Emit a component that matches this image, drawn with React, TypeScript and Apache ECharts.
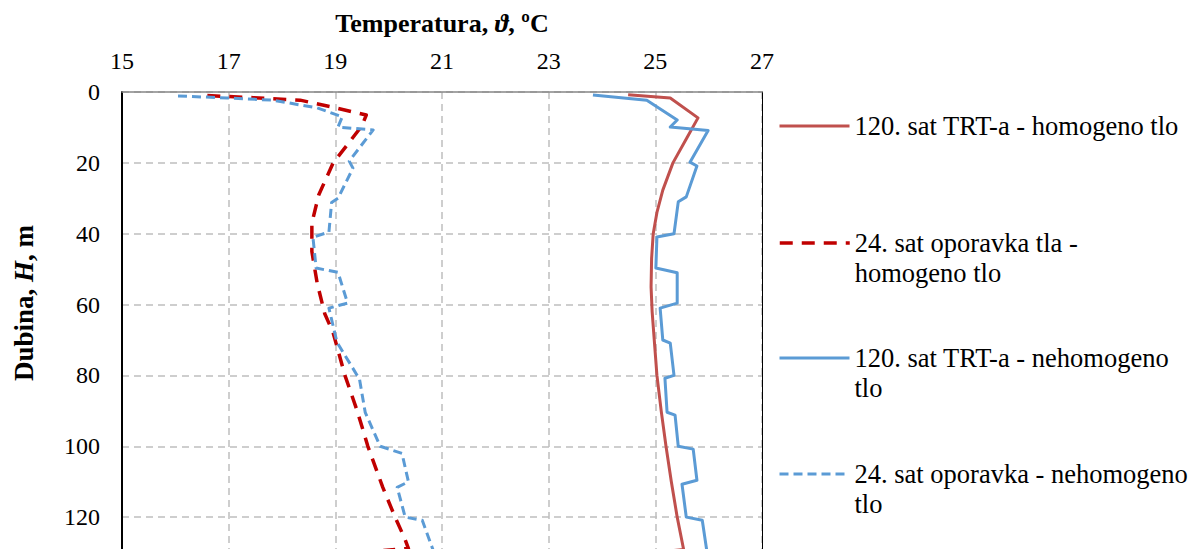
import React, { useEffect, useRef } from 'react';
import * as echarts from 'echarts';

const seriesNames = [
  '120. sat TRT-a - homogeno tlo',
  '24. sat oporavka tla -\nhomogeno tlo',
  '120. sat TRT-a - nehomogeno\ntlo',
  '24. sat oporavka - nehomogeno\ntlo',
];

const seriesColors = ['#C0504D', '#C00000', '#5B9BD5', '#5B9BD5'];

// [temperature °C, depth m]
const trtHomogeneous: [number, number][] = [
  [24.49, 0.8], [25.28, 1.7], [25.8, 7.3], [25.59, 13], [25.33, 20], [25.14, 27.7],
  [25.03, 34], [24.96, 40], [24.93, 47], [24.92, 55], [24.94, 62], [24.99, 72],
  [25.03, 80], [25.11, 90], [25.2, 100], [25.3, 110], [25.41, 120], [25.53, 129.1],
  [25.3, 129.5],
];

const recoveryHomogeneous: [number, number][] = [
  [16.6, 1.0], [17.46, 1.6], [18.34, 2.3], [18.96, 4.3], [19.58, 6.5], [19.5, 9.5],
  [19.22, 15], [18.96, 20], [18.69, 29], [18.56, 37], [18.56, 45], [18.66, 54],
  [18.8, 62.5], [18.96, 68], [19.18, 80], [19.41, 90], [19.61, 100], [19.89, 111.6],
  [20.12, 120], [20.3, 126], [20.37, 128.8], [19.9, 129.4],
];

const trtHeterogeneous: [number, number][] = [
  [23.83, 0.85], [24.84, 2.3], [25.41, 7.9], [25.28, 9.9], [25.99, 10.9], [25.65, 19.8],
  [25.78, 20.9], [25.58, 29.6], [25.43, 31], [25.35, 40], [25.03, 40.9], [25.01, 49.7],
  [25.41, 51], [25.41, 59.6], [25.09, 61], [25.14, 70], [25.28, 70.9], [25.35, 80],
  [25.18, 80.8], [25.22, 90.4], [25.37, 91.2], [25.43, 100], [25.71, 100.8], [25.78, 109.6],
  [25.5, 110.7], [25.58, 120], [25.88, 120.9], [25.97, 130],
];

const recoveryHeterogeneous: [number, number][] = [
  [16.05, 1.1], [16.97, 1.7], [17.83, 2.3], [18.66, 4.5], [19.13, 7], [19.05, 9.9],
  [19.71, 10.7], [19.26, 19.5], [19.33, 21.5], [19.05, 30], [18.93, 31.2], [18.88, 39.5],
  [18.58, 41], [18.64, 49.7], [19.05, 50.9], [19.23, 59.6], [18.88, 61], [19.03, 70.6],
  [19.41, 80], [19.45, 80.8], [19.56, 90.4], [19.84, 100], [20.25, 102], [20.37, 110],
  [20.16, 111.6], [20.31, 120], [20.63, 120.9], [20.85, 130],
];

const FONT = '"Liberation Serif", "Times New Roman", serif';

export default function App() {
  const ref = useRef<HTMLDivElement>(null);

  useEffect(() => {
    if (!ref.current) return;
    const chart = echarts.init(ref.current, null, { renderer: 'svg' });

    const lineTypes: any[] = ['solid', [13, 9], 'solid', [9, 5]];
    const lineWidths = [3, 3.5, 3, 3];
    const legendTops = [111, 198, 313, 429];

    const legends = seriesNames.map((name, i) => ({
      show: true,
      left: 778,
      top: legendTops[i],
      padding: 0,
      itemWidth: 70,
      itemHeight: 14,
      itemGap: 0,
      data: [name],
      formatter: (n: string) => (n.includes('\n') ? '\n' + n : n),
      itemStyle: { opacity: 0, borderWidth: 0 },
      lineStyle: { color: seriesColors[i], width: lineWidths[i], type: lineTypes[i], cap: 'butt' },
      textStyle: {
        fontFamily: FONT,
        fontSize: 26.5,
        color: '#000',
        lineHeight: 30,
      },
    }));

    const lineSeries = (i: number, data: [number, number][]) => ({
      name: seriesNames[i],
      type: 'line',
      data,
      symbol: 'none',
      showSymbol: false,
      lineStyle: { color: seriesColors[i], width: lineWidths[i], type: lineTypes[i], cap: 'butt', join: 'round' },
      itemStyle: { color: seriesColors[i] },
    });

    chart.setOption({
      animation: false,
      backgroundColor: '#fff',
      legend: legends,
      grid: { left: 122, top: 92, width: 640, height: 496, show: false, outerBoundsMode: 'none', containLabel: false },
      xAxis: {
        type: 'value',
        position: 'top',
        min: 15,
        max: 27,
        interval: 2,
        name: '{b|Temperatura, }{i|ϑ}{b|, ºC}',
        nameLocation: 'middle',
        nameGap: 56,
        nameTextStyle: {
          rich: {
            b: { fontFamily: FONT, fontSize: 26, fontWeight: 'bold', color: '#000' },
            i: { fontFamily: FONT, fontSize: 26, fontWeight: 'bold', fontStyle: 'italic', color: '#000' },
          },
        },
        axisLine: { show: true, lineStyle: { color: '#868686', width: 1.5 } },
        axisTick: { show: false },
        axisLabel: { fontFamily: FONT, fontSize: 24, color: '#000', margin: 19 },
        splitLine: { show: true, lineStyle: { color: '#BFBFBF', width: 1.5, type: [7, 5] } },
      },
      yAxis: [
        {
          type: 'value',
          inverse: true,
          min: 0,
          max: 140,
          interval: 20,
          axisLine: { show: true, onZero: false, lineStyle: { color: '#000', width: 2 } },
          axisTick: { show: false },
          axisLabel: { fontFamily: FONT, fontSize: 24, color: '#000', margin: 22, showMaxLabel: false },
          splitLine: { show: true, lineStyle: { color: '#BFBFBF', width: 1.5, type: [7, 5] } },
        },
        {
          type: 'value',
          inverse: true,
          position: 'right',
          min: 0,
          max: 140,
          interval: 20,
          axisLine: { show: true, onZero: false, lineStyle: { color: '#000', width: 1 } },
          axisTick: { show: false },
          axisLabel: { show: false },
          splitLine: { show: false },
        },
      ],
      graphic: [
        {
          type: 'text',
          x: 24,
          y: 303,
          rotation: Math.PI / 2,
          style: {
            text: '{b|Dubina, }{i|H}{b|, m}',
            align: 'center',
            verticalAlign: 'middle',
            rich: {
              b: { fontFamily: FONT, fontSize: 27, fontWeight: 'bold', fill: '#000' },
              i: { fontFamily: FONT, fontSize: 27, fontWeight: 'bold', fontStyle: 'italic', fill: '#000' },
            },
          },
        },
      ],
      series: [
        lineSeries(0, trtHomogeneous),
        lineSeries(1, recoveryHomogeneous),
        lineSeries(2, trtHeterogeneous),
        lineSeries(3, recoveryHeterogeneous),
      ],
    });

    return () => chart.dispose();
  }, []);

  return (
    <div
      ref={ref}
      style={{ position: 'fixed', left: 0, top: 0, width: 1192, height: 549, background: '#fff' }}
    />
  );
}
